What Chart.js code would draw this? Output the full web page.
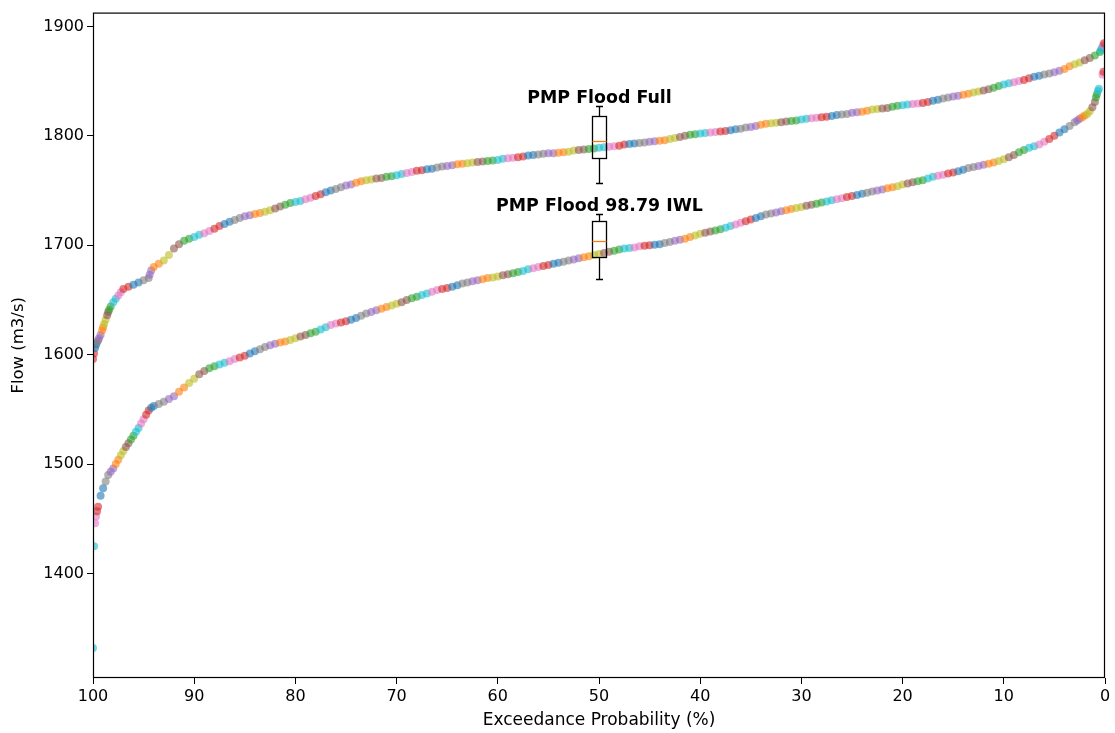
<!DOCTYPE html>
<html>
<head>
<meta charset="utf-8">
<script src="https://cdn.jsdelivr.net/npm/chart.js@4/dist/chart.umd.min.js"></script>
<style>
  html, body { margin: 0; padding: 0; background: #fff; }
  #wrap { width: 1115px; height: 733px; }
</style>
</head>
<body>
<div id="wrap"><canvas id="flowChart" width="1115" height="733"></canvas></div>
<script>
"use strict";

// exceedance curve, PMP flood with full reservoir
var fullProb = [
    100, 99.9, 99.8, 99.7, 99.6, 99.5, 99.4, 99.25, 99.1, 99, 98.9, 98.75, 98.6, 98.5, 98.4, 98.25, 98, 97.75, 97.5, 97.25, 97,
    96.5, 96, 95.5, 95, 94.5, 94.4, 94.25, 94, 93.5, 93, 92.5, 92, 91.5, 91, 90.5, 90,
    89.5, 89, 88.5, 88, 87.5, 87, 86.5, 86, 85.5, 85, 84.5, 84, 83.5, 83, 82.5, 82, 81.5, 81, 80.5, 80,
    79.5, 79, 78.5, 78, 77.5, 77, 76.5, 76, 75.5, 75, 74.5, 74, 73.5, 73, 72.5, 72, 71.5, 71, 70.5, 70,
    69.5, 69, 68.5, 68, 67.5, 67, 66.5, 66, 65.5, 65, 64.5, 64, 63.5, 63, 62.5, 62, 61.5, 61, 60.5, 60,
    59.5, 59, 58.5, 58, 57.5, 57, 56.5, 56, 55.5, 55, 54.5, 54, 53.5, 53, 52.5, 52, 51.5, 51, 50.5, 50,
    49.5, 49, 48.5, 48, 47.5, 47, 46.5, 46, 45.5, 45, 44.5, 44, 43.5, 43, 42.5, 42, 41.5, 41, 40.5, 40,
    39.5, 39, 38.5, 38, 37.5, 37, 36.5, 36, 35.5, 35, 34.5, 34, 33.5, 33, 32.5, 32, 31.5, 31, 30.5, 30,
    29.5, 29, 28.5, 28, 27.5, 27, 26.5, 26, 25.5, 25, 24.5, 24, 23.5, 23, 22.5, 22, 21.5, 21, 20.5, 20,
    19.5, 19, 18.5, 18, 17.5, 17, 16.5, 16, 15.5, 15, 14.5, 14, 13.5, 13, 12.5, 12, 11.5, 11, 10.5, 10,
    9.5, 9, 8.5, 8, 7.5, 7, 6.5, 6, 5.5, 5, 4.5, 4, 3.5, 3, 2.5, 2, 1.5, 1, 0.5,
    0.4, 0.3, 0.25, 0.2, 0.15, 0.1
];
var fullFlow = [
    1596, 1601, 1606, 1609, 1611, 1613, 1615, 1618, 1622, 1625, 1628, 1632, 1636, 1639, 1641, 1644, 1648, 1651, 1654, 1657, 1660,
    1662, 1664, 1666, 1668, 1670, 1673, 1677, 1680, 1683, 1686, 1691, 1697, 1701, 1704, 1706, 1707.5,
    1709.5, 1711, 1713, 1715, 1717.5, 1719.5, 1721.5, 1723, 1725, 1726.5, 1727.5, 1728.5, 1729.5, 1730.5, 1732, 1733.5, 1735.5, 1737, 1738.5, 1739.5,
    1740.5, 1742, 1743.5, 1745, 1746.5, 1748.5, 1750, 1751.5, 1753, 1754.5, 1755.5, 1757, 1758.5, 1759.5, 1760, 1761, 1761.5, 1762.5, 1763, 1764,
    1765, 1766, 1767, 1768, 1768.5, 1769.5, 1770, 1771, 1772, 1772.5, 1773, 1774, 1774.5, 1775, 1775.5, 1776, 1776.5, 1777, 1777.5, 1778,
    1779, 1779.5, 1780, 1780.5, 1781, 1782, 1782.5, 1783, 1783.5, 1784, 1784, 1784.5, 1785, 1785.5, 1786.5, 1787, 1787.5, 1788, 1788.5, 1789,
    1789.5, 1790, 1790.5, 1791, 1792, 1792.5, 1793, 1793.5, 1794, 1794.5, 1795, 1795.5, 1796, 1797, 1798, 1799, 1800, 1801, 1801.5, 1802,
    1802.5, 1803, 1803.5, 1804, 1804.5, 1805, 1806, 1806.5, 1807.5, 1808, 1809, 1810, 1811, 1811.5, 1812, 1812.5, 1813, 1813.5, 1814, 1815,
    1815.5, 1816, 1816.5, 1817, 1817.5, 1818, 1819, 1819.5, 1820, 1821, 1821.5, 1822, 1823, 1824, 1824.5, 1825, 1825.5, 1826.5, 1827.5, 1828,
    1828.5, 1829, 1829.5, 1830, 1831, 1832, 1833, 1834, 1835, 1836, 1836.5, 1837.5, 1838.5, 1839.5, 1840.5, 1841.5, 1842.5, 1844, 1845.5, 1847,
    1848, 1849, 1850, 1851, 1852.5, 1854, 1855, 1856, 1857, 1858, 1859.5, 1861, 1863.5, 1865.5, 1867, 1869, 1871, 1873.5, 1876.5,
    1878.5, 1880.5, 1856, 1882.5, 1858.5, 1884.5
];

// exceedance curve, PMP flood starting from 98.79 IWL
var iwlProb = [
    100, 99.9, 99.8, 99.7, 99.6, 99.5, 99.25, 99, 98.75, 98.5, 98.25, 98, 97.75, 97.5, 97.25, 97,
    96.75, 96.5, 96.25, 96, 95.75, 95.5, 95.25, 95, 94.75, 94.5, 94.25, 94, 93.5, 93, 92.5, 92, 91.5, 91, 90.5, 90,
    89.5, 89, 88.5, 88, 87.5, 87, 86.5, 86, 85.5, 85, 84.5, 84, 83.5, 83, 82.5, 82, 81.5, 81, 80.5, 80,
    79.5, 79, 78.5, 78, 77.5, 77, 76.5, 76, 75.5, 75, 74.5, 74, 73.5, 73, 72.5, 72, 71.5, 71, 70.5, 70,
    69.5, 69, 68.5, 68, 67.5, 67, 66.5, 66, 65.5, 65, 64.5, 64, 63.5, 63, 62.5, 62, 61.5, 61, 60.5, 60,
    59.5, 59, 58.5, 58, 57.5, 57, 56.5, 56, 55.5, 55, 54.5, 54, 53.5, 53, 52.5, 52, 51.5, 51, 50.5, 50,
    49.5, 49, 48.5, 48, 47.5, 47, 46.5, 46, 45.5, 45, 44.5, 44, 43.5, 43, 42.5, 42, 41.5, 41, 40.5, 40,
    39.5, 39, 38.5, 38, 37.5, 37, 36.5, 36, 35.5, 35, 34.5, 34, 33.5, 33, 32.5, 32, 31.5, 31, 30.5, 30,
    29.5, 29, 28.5, 28, 27.5, 27, 26.5, 26, 25.5, 25, 24.5, 24, 23.5, 23, 22.5, 22, 21.5, 21, 20.5, 20,
    19.5, 19, 18.5, 18, 17.5, 17, 16.5, 16, 15.5, 15, 14.5, 14, 13.5, 13, 12.5, 12, 11.5, 11, 10.5, 10,
    9.5, 9, 8.5, 8, 7.5, 7, 6.5, 6, 5.5, 5, 4.5, 4, 3.5, 3, 2.75, 2.5, 2.25, 2, 1.75, 1.5, 1.25, 1,
    0.9, 0.8, 0.7, 0.6
];
var iwlFlow = [
    1332, 1425, 1446, 1452, 1457, 1461, 1471, 1478, 1484, 1490, 1493, 1496, 1500, 1504, 1508, 1512,
    1515.5, 1519, 1522.5, 1526, 1529.5, 1533, 1537, 1541, 1545, 1549, 1551.5, 1553, 1555, 1557, 1559.5, 1562, 1566, 1570, 1574, 1578,
    1582, 1585, 1587.5, 1589.5, 1591, 1592.5, 1594, 1596, 1597.5, 1599, 1601, 1603, 1605, 1607, 1608.5, 1610, 1611, 1612, 1613.5, 1615,
    1616.5, 1618, 1619.5, 1621, 1623, 1625, 1627, 1628.5, 1629.5, 1630.5, 1632, 1633.5, 1635.5, 1637.5, 1639, 1640.5, 1642, 1643.5, 1645, 1646.5,
    1648, 1650, 1651.5, 1653, 1654.5, 1656, 1657.5, 1659, 1660, 1661, 1662, 1663.5, 1665, 1666, 1667, 1668, 1669, 1670, 1670.5, 1671.5,
    1672.5, 1673.5, 1674.5, 1675.5, 1676.5, 1678, 1679, 1680, 1681, 1682, 1683, 1684, 1685, 1686, 1687, 1688, 1689, 1690, 1691, 1692,
    1693, 1694, 1695, 1696, 1697, 1697.5, 1698, 1699, 1699.5, 1700, 1700.5, 1701, 1702, 1703, 1704, 1705, 1706, 1707.5, 1709, 1710.5,
    1711.5, 1712.5, 1713.5, 1714.5, 1716, 1717.5, 1719, 1720.5, 1722, 1723.5, 1725, 1726.5, 1728, 1729, 1730, 1731, 1732, 1733, 1734, 1735,
    1736, 1737, 1738, 1739, 1740, 1741, 1742, 1743, 1744, 1745, 1746, 1747, 1748, 1749, 1750, 1751, 1752, 1753, 1754, 1755.5,
    1756.5, 1757.5, 1758.5, 1759.5, 1761, 1762.5, 1763.5, 1764.5, 1765.5, 1766.5, 1767.5, 1769, 1770.5, 1771.5, 1772.5, 1773.5, 1774.5, 1775.5, 1777, 1778.5,
    1780.5, 1782.5, 1785, 1787, 1789, 1790.5, 1792, 1794.5, 1797, 1800, 1803, 1806, 1809, 1812.5, 1814, 1815.5, 1817, 1818.5, 1820, 1822.5, 1826, 1831,
    1835, 1838, 1841, 1843
];

// box plots of the two simulated floods
var boxNames = ['PMP Flood Full', 'PMP Flood 98.79 IWL'];
var boxProb = [50, 50];
var boxLow = [1757, 1669];
var boxQ1 = [1780, 1689];
var boxMedian = [1795, 1704];
var boxQ3 = [1818, 1722];
var boxHigh = [1827, 1729];

var probTicks = [100, 90, 80, 70, 60, 50, 40, 30, 20, 10, 0];
var flowTicks = [1400, 1500, 1600, 1700, 1800, 1900];

var tab10 = [
    '31,119,180', '255,127,14', '44,160,44', '214,39,40', '148,103,189',
    '140,86,75', '227,119,194', '127,127,127', '188,189,34', '23,190,207'
];

function toPoints(xs, ys) {
    return xs.map(function (x, i) { return { x: x, y: ys[i] }; });
}

function dotColours(n, shift) {
    var out = [];
    for (var i = 0; i < n; i++) {
        out.push('rgba(' + tab10[(Math.floor(i / 2) * 7 + shift) % 10] + ',0.6)');
    }
    return out;
}

var FONT = "'DejaVu Sans', sans-serif";

// boxes, whiskers and their captions
var boxPlugin = {
    id: 'boxes',
    afterDatasetsDraw: function (chart) {
        var ctx = chart.ctx;
        var xs = chart.scales.x, ys = chart.scales.y;
        ctx.save();
        for (var i = 0; i < boxNames.length; i++) {
            var cx = Math.round(xs.getPixelForValue(boxProb[i]));
            var half = 7, cap = 3.5;
            var pLow = Math.round(ys.getPixelForValue(boxLow[i])) + 0.5;
            var pQ1 = Math.round(ys.getPixelForValue(boxQ1[i])) + 0.5;
            var pMed = Math.round(ys.getPixelForValue(boxMedian[i])) + 0.5;
            var pQ3 = Math.round(ys.getPixelForValue(boxQ3[i])) + 0.5;
            var pHigh = Math.round(ys.getPixelForValue(boxHigh[i])) + 0.5;
            var lx = cx + 0.5;

            ctx.strokeStyle = '#000';
            ctx.lineWidth = 1.3;
            ctx.beginPath();
            ctx.moveTo(lx, pQ3); ctx.lineTo(lx, pHigh);
            ctx.moveTo(lx - cap, pHigh); ctx.lineTo(lx + cap, pHigh);
            ctx.moveTo(lx, pQ1); ctx.lineTo(lx, pLow);
            ctx.moveTo(lx - cap, pLow); ctx.lineTo(lx + cap, pLow);
            ctx.stroke();
            ctx.strokeRect(lx - half, pQ3, half * 2, pQ1 - pQ3);

            ctx.strokeStyle = '#ff7f0e';
            ctx.beginPath();
            ctx.moveTo(lx - half, pMed); ctx.lineTo(lx + half, pMed);
            ctx.stroke();

            ctx.fillStyle = '#000';
            ctx.font = 'bold 17.4px ' + FONT;
            ctx.textAlign = 'center';
            ctx.textBaseline = 'alphabetic';
            ctx.fillText(boxNames[i], lx, pHigh - 4);
        }
        ctx.restore();
    }
};

// box round the plotting area
var framePlugin = {
    id: 'frame',
    afterDraw: function (chart) {
        var a = chart.chartArea, ctx = chart.ctx;
        ctx.save();
        ctx.strokeStyle = '#000';
        ctx.lineWidth = 1.2;
        ctx.strokeRect(a.left + 0.5, a.top + 0.5, a.right - a.left - 1, a.bottom - a.top - 1);
        ctx.restore();
    }
};

function plainTick(value) {
    return String(value);
}

var chartCtx = document.getElementById('flowChart');
var flowChart = new Chart(chartCtx, {
    type: 'scatter',
    data: {
        datasets: [{
            label: boxNames[0],
            data: toPoints(fullProb, fullFlow),
            backgroundColor: dotColours(fullProb.length, 3),
            borderWidth: 0,
            pointRadius: 4,
            pointHoverRadius: 4
        }, {
            label: boxNames[1],
            data: toPoints(iwlProb, iwlFlow),
            backgroundColor: dotColours(iwlProb.length, 9),
            borderWidth: 0,
            pointRadius: 4,
            pointHoverRadius: 4
        }]
    },
    options: {
        responsive: false,
        animation: false,
        devicePixelRatio: 1,
        layout: { padding: { left: 0, top: 12, right: 10, bottom: 0 } },
        plugins: {
            legend: { display: false },
            tooltip: { enabled: false }
        },
        scales: {
            x: {
                type: 'linear',
                reverse: true,
                min: 0,
                max: 100,
                afterBuildTicks: function (scale) {
                    scale.ticks = probTicks.map(function (v) { return { value: v }; });
                },
                afterFit: function (scale) { scale.height = 55; },
                grid: { drawOnChartArea: false, drawTicks: true, tickLength: 6, color: '#000', lineWidth: 1 },
                border: { display: false },
                ticks: { color: '#000', font: { family: FONT, size: 16 }, padding: 3, maxRotation: 0, callback: plainTick },
                title: {
                    display: true,
                    text: 'Exceedance Probability (%)',
                    color: '#000',
                    font: { family: FONT, size: 17 },
                    padding: { top: 0, bottom: 2 }
                }
            },
            y: {
                type: 'linear',
                min: 1304.5,
                max: 1912.6,
                afterBuildTicks: function (scale) {
                    scale.ticks = flowTicks.map(function (v) { return { value: v }; });
                },
                afterFit: function (scale) { scale.width = 93; },
                grid: { drawOnChartArea: false, drawTicks: true, tickLength: 6, color: '#000', lineWidth: 1 },
                border: { display: false },
                ticks: { color: '#000', font: { family: FONT, size: 16 }, padding: 3, callback: plainTick },
                title: {
                    display: true,
                    text: 'Flow (m3/s)',
                    color: '#000',
                    font: { family: FONT, size: 16.5 },
                    padding: { top: 9, bottom: 0 }
                }
            }
        }
    },
    plugins: [boxPlugin, framePlugin]
});
</script>
</body>
</html>
